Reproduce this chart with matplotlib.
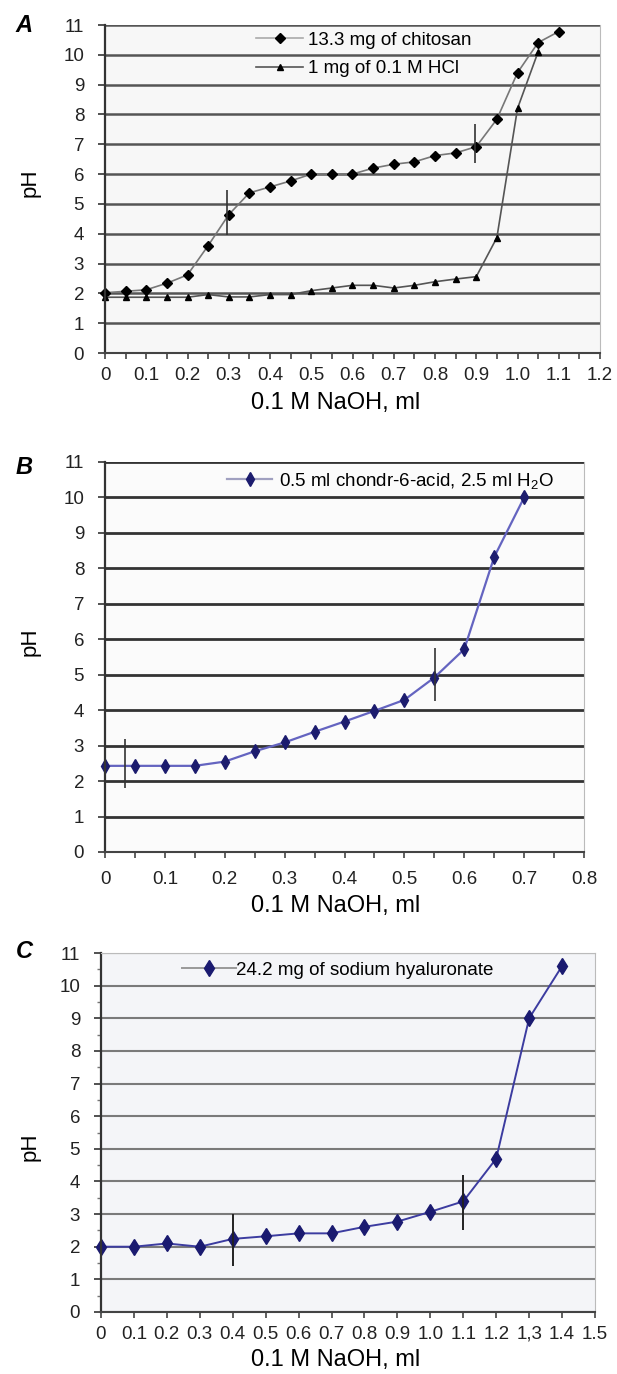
import matplotlib.pyplot as plt
import numpy as np

plt.rcParams['font.family'] = ['Liberation Sans', 'DejaVu Sans']
plt.rcParams['mathtext.default'] = 'regular'

# panel A: 13.3 mg chitosan and 1 mg of 0.1 M HCl
a_x = [0, 0.05, 0.1, 0.15, 0.2, 0.25, 0.3, 0.35, 0.4, 0.45, 0.5, 0.55,
       0.6, 0.65, 0.7, 0.75, 0.8, 0.85, 0.9, 0.95, 1.0, 1.05, 1.1]
a_chitosan = [2.02, 2.07, 2.12, 2.34, 2.62, 3.6, 4.64, 5.37, 5.57, 5.77, 6.0, 6.0,
              6.0, 6.2, 6.33, 6.41, 6.62, 6.71, 6.92, 7.84, 9.4, 10.41, 10.78]
a_hcl_x = [0, 0.05, 0.1, 0.15, 0.2, 0.25, 0.3, 0.35, 0.4, 0.45, 0.5,
           0.55, 0.6, 0.65, 0.7, 0.75, 0.8, 0.85, 0.9, 0.95, 1.0, 1.05]
a_hcl = [1.87, 1.87, 1.87, 1.87, 1.87, 1.96, 1.88, 1.88, 1.96, 1.96, 2.09,
         2.18, 2.27, 2.27, 2.18, 2.27, 2.39, 2.48, 2.56, 3.87, 8.2, 10.1]
a_err_x = [0.295, 0.896]
a_err_lo = [3.95, 6.36]
a_err_hi = [5.45, 7.68]
a_ticks = ['0', '0.1', '0.2', '0.3', '0.4', '0.5', '0.6', '0.7', '0.8', '0.9',
           '1.0', '1.1', '1.2']

# panel B: chondroitin-6-sulfuric acid
b_x = [0, 0.05, 0.1, 0.15, 0.2, 0.25, 0.3, 0.35, 0.4, 0.45, 0.5, 0.55, 0.6, 0.65, 0.7]
b_ph = [2.43, 2.43, 2.43, 2.43, 2.55, 2.84, 3.09, 3.39, 3.68, 3.98, 4.29, 4.92,
        5.72, 8.32, 10.0]
b_err_x = [0.033, 0.551]
b_err_lo = [1.8, 4.26]
b_err_hi = [3.2, 5.74]
b_ticks = ['0', '0.1', '0.2', '0.3', '0.4', '0.5', '0.6', '0.7', '0.8']

# panel C: sodium hyaluronate
c_x = [0, 0.1, 0.2, 0.3, 0.4, 0.5, 0.6, 0.7, 0.8, 0.9, 1.0, 1.1, 1.2, 1.3, 1.4]
c_ph = [2.0, 2.0, 2.1, 2.0, 2.24, 2.32, 2.41, 2.41, 2.61, 2.77, 3.07, 3.39,
        4.7, 9.0, 10.6]
c_err_x = [0.4, 1.1]
c_err_lo = [1.4, 2.5]
c_err_hi = [3.0, 4.2]
c_ticks = ['0', '0.1', '0.2', '0.3', '0.4', '0.5', '0.6', '0.7', '0.8', '0.9',
           '1.0', '1.1', '1.2', '1,3', '1.4', '1.5']

W, H = 617, 1374
fig = plt.figure(figsize=(W / 100, H / 100), dpi=100)


def px_axes(left, right, top, bottom):
    return fig.add_axes([left / W, 1 - bottom / H, (right - left) / W, (bottom - top) / H])


def style(ax, xmax, ticklabels, step, grid_color, grid_lw, face):
    ax.set_facecolor(face)
    ax.set_xlim(0, xmax)
    ax.set_ylim(0, 11)
    ax.set_yticks(range(12))
    ax.set_yticklabels([str(v) for v in range(12)])
    ax.set_xticks(np.arange(len(ticklabels)) * step)
    ax.set_xticklabels(ticklabels)
    ax.yaxis.grid(True, color=grid_color, lw=grid_lw)
    ax.set_axisbelow(True)
    ax.tick_params(axis='y', length=5, width=1.2, color='#333', pad=10,
                   labelsize=13.5, labelcolor='#222')
    ax.tick_params(axis='x', length=4, width=1.2, color='#444', pad=6,
                   labelsize=13.5, labelcolor='#222')
    ax.spines['left'].set_color('#333')
    ax.spines['left'].set_linewidth(1.6)
    ax.spines['bottom'].set_color('#444')
    ax.spines['bottom'].set_linewidth(1.5)
    ax.spines['right'].set_color('#bbbbbb')
    ax.spines['top'].set_visible(False)


# ---- A ----
ax = px_axes(105, 600, 25, 353)
style(ax, 1.2, a_ticks, 0.1, '#555555', 1.8, '#f7f7f7')
ax.set_xticks(np.arange(0, 1.21, 0.05), minor=True)
ax.tick_params(axis='x', which='minor', length=4, width=1.2, color='#444')
ax.plot(a_x, a_chitosan, color='#777777', lw=1.2, marker='D', ms=5,
        mfc='black', mec='black', label='13.3 mg of chitosan', clip_on=False)
ax.plot(a_hcl_x, a_hcl, color='#555555', lw=1.2, marker='^', ms=5,
        mfc='black', mec='black', label='1 mg of 0.1 M HCl', clip_on=False)
ax.vlines(a_err_x, a_err_lo, a_err_hi, color='#333', lw=1.2)
leg = ax.legend(loc='upper left', bbox_to_anchor=(0.306, 0.979), frameon=False,
                fontsize=13.5, borderpad=0, handlelength=2.5, handletextpad=0.27,
                labelspacing=0.6, borderaxespad=0)
leg.get_lines()[0].set_color('#aaaaaa')

# ---- B ----
ax = px_axes(105, 584, 462, 852)
style(ax, 0.8, b_ticks, 0.1, '#333333', 2.0, '#fbfbfb')
ax.set_xticks(np.arange(0, 0.81, 0.05), minor=True)
ax.tick_params(axis='x', which='minor', length=4, width=1.2, color='#444')
ax.tick_params(axis='x', pad=10)
ax.plot(b_x, b_ph, color='#6464c0', lw=1.6, marker='d', ms=7.5,
        mfc='#1c1c6e', mec='#1c1c6e', label=r'0.5 ml chondr-6-acid, 2.5 ml H$_2$O',
        clip_on=False)
ax.vlines(b_err_x, b_err_lo, b_err_hi, color='#333', lw=1.2)
leg = ax.legend(loc='upper left', bbox_to_anchor=(0.255, 0.978), frameon=False,
                fontsize=13.5, borderpad=0, handlelength=2.4, handletextpad=0.37,
                borderaxespad=0)
leg.get_lines()[0].set_color('#a0a0c0')

# ---- C ----
ax = px_axes(101, 595, 953, 1312)
style(ax, 1.5, c_ticks, 0.1, '#7a7a7a', 1.5, '#f4f5f8')
ax.spines['top'].set_visible(True)
ax.spines['top'].set_color('#bbbbbb')
ax.set_yticks(np.arange(0.5, 11, 1), minor=True)
ax.tick_params(axis='y', which='minor', length=3, width=1, color='#777')
ax.plot(c_x, c_ph, color='#3c3ca0', lw=1.4, marker='d', ms=8,
        mfc='#1a1a70', mec='#1a1a70', label='24.2 mg of sodium hyaluronate',
        clip_on=False)
ax.vlines(c_err_x, c_err_lo, c_err_hi, color='#222', lw=1.4)
leg = ax.legend(loc='upper left', bbox_to_anchor=(0.164, 0.976), frameon=False,
                fontsize=13.5, borderpad=0, handlelength=2.9, handletextpad=0.0,
                borderaxespad=0)
leg.get_lines()[0].set_color('#999999')

# panel letters, axis titles
for letter, y in [('A', 26), ('B', 467), ('C', 952)]:
    fig.text(24 / W, 1 - y / H, letter, fontsize=17, fontweight='bold',
             style='italic', ha='center', va='center')
for y in [183, 642, 1147]:
    fig.text(30 / W, 1 - y / H, 'pH', rotation=90, fontsize=16,
             ha='center', va='center')
for y in [403, 906, 1360]:
    fig.text(336 / W, 1 - y / H, '0.1 M NaOH, ml', fontsize=17,
             ha='center', va='center')

fig.savefig('out.png', dpi=100)
